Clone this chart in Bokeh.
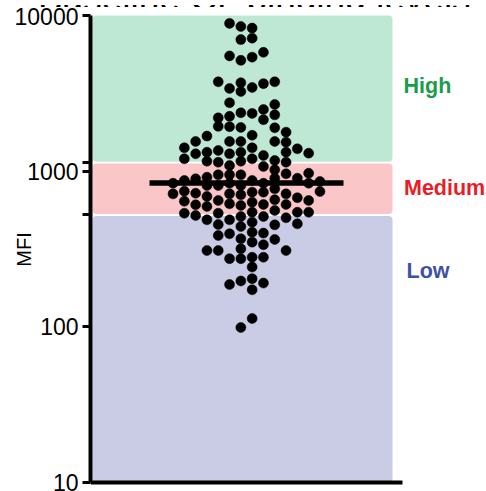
from bokeh.plotting import figure
from bokeh.layouts import column
from bokeh.models import Range1d, FixedTicker, Label, Div
from bokeh.embed import file_html
from bokeh.resources import INLINE

# ---------------- data ----------------
title = "Baseline CL binding levels"
y_label = "MFI"
tick_values = [10, 100, 525, 1000, 1130, 10000]
tick_labels = ["10", "100", "", "1000", "", "10000"]

band_names = ["High", "Medium", "Low"]
band_bottom = [1150, 530, 10]
band_top = [10000, 1120, 515]
band_label_y = [3550, 785, 230]

median_mfi = 840

# swarm column (in dot widths from centre) and MFI of each dot
top_cols = [-1.5, -0.5, 0.5, -0.5, 0.5, -1.5, -0.5, 0.5, 1.5, -2.5, -1.5, -0.5, -0.5, 0.5, 1.5, 2.5]
top_mfi = [8900, 8500, 8300, 7000, 7150, 5500, 5150, 5400, 5800, 3750, 3400, 3700, 3250, 3450, 3650, 3750]

mid_cols = [-1.5, -2.5, -1.5, -0.5, 0.5, 1.5, 2.5, 2.5, -2.5, -1.5, -0.5, 1.5, -3.5, 0.5, 2.5, 3.5]
mid_mfi = [2750, 2200, 2250, 2370, 2350, 2490, 2680, 2300, 1940, 1930, 1910, 2140, 1680, 1700, 1900, 1780]

low_cols = (
    [-6.5] * 2 + [-5.5] * 6 + [-4.5] * 6 + [-3.5] * 8 + [-2.5] * 9 + [-1.5] * 11 + [-0.5] * 14
    + [0.5] * 14 + [1.5] * 10 + [2.5] * 9 + [3.5] * 8 + [4.5] * 5 + [5.5] * 5 + [6.5] * 2
)
low_mfi = [
    837, 715,
    1413, 1201, 871, 743, 641, 537,
    1551, 1293, 893, 722, 608, 519,
    1324, 1159, 915, 809, 688, 593, 487, 309,
    1358, 1142, 948, 809, 648, 537, 454, 386, 309,
    1551, 1293, 1087, 948, 837, 715, 617, 487, 396, 274, 187,
    1551, 1324, 1159, 948, 809, 705, 602, 511, 441, 368, 317, 274, 197, 99,
    1413, 1201, 871, 733, 632, 545, 470, 405, 350, 280, 242, 204, 173, 113,
    1261, 1072, 837, 733, 611, 511, 400, 337, 280, 191,
    1551, 1171, 1020, 901, 770, 655, 559, 452, 364,
    1535, 1324, 1142, 962, 715, 611, 502, 309,
    1392, 901, 675, 545, 459,
    1305, 970, 837, 648, 545,
    858, 740,
]

# ---------------- styling / layout ----------------
FONT = "Liberation Sans"
band_colors = ["#bee8d4", "#fac6c8", "#cacbe4"]
label_colors = ["#1a9d4b", "#ec1c27", "#3d52a5"]

W = 486
TH = 7            # height of the strip holding the (cropped) title
H = 491 - TH
LEFT = 90
DEC = 155.67      # px per decade
X_PX = 312.0      # px per x unit (x axis length)

# --- cropped title strip (the original's title is cut by the top edge) ---
title_html = (
    f'<div style="position:relative;width:{W}px;height:{TH}px;overflow:hidden;">'
    f'<span style="position:absolute;left:38px;top:-25px;font-family:\'Liberation Sans\',Arial,sans-serif;'
    f'font-size:37px;line-height:37px;white-space:nowrap;color:#000;">{title}</span></div>'
)
title_div = Div(text=title_html, width=W, height=TH, margin=(0, 0, 0, 0),
                styles={"overflow": "hidden"})

# --- main plot ---
p = figure(
    width=W, height=H,
    y_axis_type="log",
    x_range=Range1d(0, (W - LEFT) / X_PX),
    y_range=Range1d(10 ** (1 - 9 / DEC), 10 ** (4 + 8 / DEC)),
    x_axis_location=None,
    output_backend="svg", toolbar_location=None,
    min_border_left=LEFT, min_border_right=0, min_border_top=0, min_border_bottom=0,
)
p.outline_line_color = None
p.grid.visible = False
p.background_fill_color = "white"
p.border_fill_color = "white"

ax = p.yaxis[0]
ax.ticker = FixedTicker(ticks=tick_values, minor_ticks=[])
ax.major_label_overrides = {v: t for v, t in zip(tick_values, tick_labels)}
ax.bounds = (10, 10000)
ax.axis_line_width = 4
ax.axis_line_color = "black"
ax.major_tick_line_width = 3
ax.major_tick_out = 8
ax.major_tick_in = 0
ax.minor_tick_line_color = None
ax.major_label_text_font = FONT
ax.major_label_text_font_size = "23px"
ax.major_label_text_color = "black"
ax.major_label_standoff = 4
ax.axis_label = y_label
ax.axis_label_text_font = FONT
ax.axis_label_text_font_size = "20px"
ax.axis_label_text_font_style = "normal"
ax.axis_label_text_color = "black"
ax.axis_label_standoff = -23

# bands
band_left, band_right = 2 / X_PX, 302 / X_PX
p.quad(left=band_left, right=band_right, bottom=band_bottom, top=band_top,
       fill_color=band_colors, line_color=None, border_radius=4)

# bottom axis line
p.segment(x0=[0], x1=[1], y0=[10], y1=[10], line_color="black", line_width=4)

# points
center = 0.5
step = 11.3 / X_PX
cols = top_cols + mid_cols + low_cols
vals = top_mfi + mid_mfi + low_mfi
xs = [center + c * step for c in cols]
p.scatter(xs, vals, size=10, fill_color="black", line_color="black", line_width=0.5)

# median line
half = 97 / X_PX
p.segment(x0=[center - half], x1=[center + half], y0=[median_mfi], y1=[median_mfi],
          line_color="black", line_width=5.5)

# band labels
label_x = [313 / X_PX, 313.5 / X_PX, 316 / X_PX]
for name, yv, col, xv in zip(band_names, band_label_y, label_colors, label_x):
    p.add_layout(Label(x=xv, y=yv, text=name, text_color=col, text_font=FONT,
                       text_font_size="21.5px", text_font_style="bold",
                       text_baseline="alphabetic", text_align="left"))

root = column(title_div, p, spacing=0)
open("out.html", "w").write(file_html(root, INLINE))
